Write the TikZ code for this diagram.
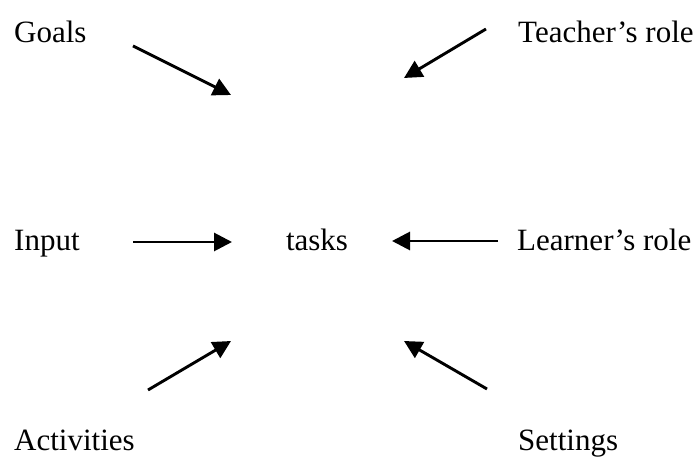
\documentclass[tikz,border=0pt]{standalone}
\usepackage{fontspec}
\setmainfont{Liberation Serif}
\usetikzlibrary{arrows.meta}
\begin{document}
\begin{tikzpicture}[x=1pt,y=-1pt,
  lbl/.style={inner sep=0pt,font=\fontsize{31}{36}\selectfont},
  arr/.style={line width=2.9pt,-{Triangle[length=18pt,width=18pt]}}]
\useasboundingbox (0,0) rectangle (696,462);
\node[lbl,anchor=base west] (goals) at (14,43) {Goals};
\node[lbl,anchor=base west] (teacher) at (518,43) {Teacher’s role};
\node[lbl,anchor=base west] (input) at (14,251) {Input};
\node[lbl,anchor=base] (tasks) at (317,251) {tasks};
\node[lbl,anchor=base west] (learner) at (517,251) {Learner’s role};
\node[lbl,anchor=base west] (activities) at (14,450) {Activities};
\node[lbl,anchor=base west] (settings) at (518,450) {Settings};
\coordinate (g0) at (133,46); \coordinate (g1) at (231,95);
\coordinate (t0) at (486,29); \coordinate (t1) at (404,78);
\coordinate (i0) at (133,242); \coordinate (i1) at (232,242);
\coordinate (l0) at (498,241); \coordinate (l1) at (392,241);
\coordinate (a0) at (148,390); \coordinate (a1) at (231,341);
\coordinate (s0) at (487,389); \coordinate (s1) at (404,341);
\draw[arr] (g0) -- (g1);
\draw[arr] (t0) -- (t1);
\draw[arr] (i0) -- (i1);
\draw[arr] (l0) -- (l1);
\draw[arr] (a0) -- (a1);
\draw[arr] (s0) -- (s1);
\end{tikzpicture}
\end{document}
